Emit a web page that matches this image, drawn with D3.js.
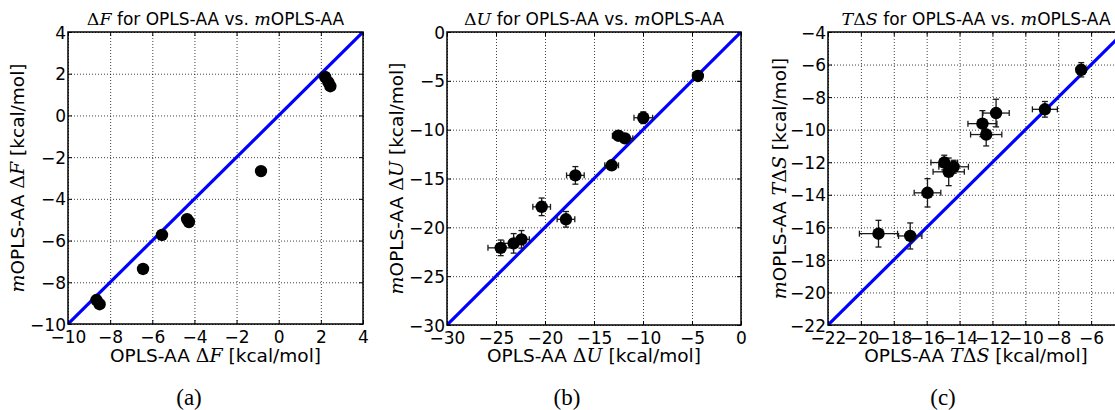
<!DOCTYPE html>
<html>
<head>
<meta charset="utf-8">
<script src="https://cdn.jsdelivr.net/npm/d3@7"></script>
<style>
  html, body { margin: 0; padding: 0; background: #fff; }
  svg { display: block; overflow: hidden; }
</style>
</head>
<body>
<svg id="fig" width="1115" height="410"></svg>
<script>
// ---- Data (kcal/mol) ----
// (a) free energy
const freeOpls  = [2.2, 2.35, 2.45, -0.84, -4.35, -4.26, -5.54, -6.44, -8.65, -8.5];
const freeMopls = [1.85, 1.6, 1.4, -2.67, -4.97, -5.11, -5.73, -7.36, -8.85, -9.05];

// (b) internal energy with uncertainties
const energyOpls     = [-4.4, -9.97, -12.52, -11.84, -13.2, -16.9, -20.34, -17.86, -24.52, -23.2, -22.4];
const energyMopls    = [-4.5, -8.78, -10.62, -10.89, -13.65, -14.68, -17.9, -19.18, -22.1, -21.64, -21.23];
const energyOplsErr  = [0.3, 0.95, 0.6, 0.8, 0.7, 0.9, 0.9, 0.9, 1.3, 1.0, 0.8];
const energyMoplsErr = [0.3, 0.6, 0.4, 0.4, 0.4, 0.9, 0.9, 0.8, 0.8, 1.0, 0.9];

// (c) entropic term with uncertainties
const entropyOpls     = [-18.93, -17.0, -15.95, -14.93, -14.36, -14.66, -12.61, -12.38, -11.78, -8.81, -6.6];
const entropyMopls    = [-16.39, -16.53, -13.88, -12.02, -12.28, -12.59, -9.63, -10.3, -8.98, -8.75, -6.32];
const entropyOplsErr  = [1.16, 0.71, 0.81, 0.81, 0.9, 0.95, 0.88, 0.95, 0.8, 0.76, 0.3];
const entropyMoplsErr = [0.82, 0.8, 0.87, 0.45, 0.4, 0.85, 0.8, 0.7, 0.85, 0.48, 0.44];

// ---- Tick values ----
const ticksA = [-10, -8, -6, -4, -2, 0, 2, 4];
const ticksB = [-30, -25, -20, -15, -10, -5, 0];
const ticksC = [-22, -20, -18, -16, -14, -12, -10, -8, -6, -4];

// ---- Text, split into plain and math runs ----
// kind: "t" plain sans, "i" math italic, "u" math upright
const titleA  = [["u","Δ"],["i","F"],["t"," for OPLS-AA vs. "],["i","m"],["t","OPLS-AA"]];
const titleB  = [["u","Δ"],["i","U"],["t"," for OPLS-AA vs. "],["i","m"],["t","OPLS-AA"]];
const titleC  = [["i","T"],["u","Δ"],["i","S"],["t"," for OPLS-AA vs. "],["i","m"],["t","OPLS-AA"]];
const xLabelA = [["t","OPLS-AA "],["u","Δ"],["i","F"],["t"," [kcal/mol]"]];
const xLabelB = [["t","OPLS-AA "],["u","Δ"],["i","U"],["t"," [kcal/mol]"]];
const xLabelC = [["t","OPLS-AA "],["i","T"],["u","Δ"],["i","S"],["t"," [kcal/mol]"]];
const yLabelA = [["i","m"],["t","OPLS-AA "],["u","Δ"],["i","F"],["t"," [kcal/mol]"]];
const yLabelB = [["i","m"],["t","OPLS-AA "],["u","Δ"],["i","U"],["t"," [kcal/mol]"]];
const yLabelC = [["i","m"],["t","OPLS-AA "],["i","T"],["u","Δ"],["i","S"],["t"," [kcal/mol]"]];
const captions = ["(a)", "(b)", "(c)"];

const SANS = "'DejaVu Sans', 'Bitstream Vera Sans', sans-serif";
const MATH = "'DejaVu Serif', 'Liberation Serif', serif";
const TICK_FS = 17;
const TITLE_FS = 17;
const LABEL_FS = 18.5;
const WIDTH = 1115;

const panels = [
  { x0: 68,  x1: 363,  y0: 32, y1: 324, dom: [-10, 4],  ticks: ticksA,
    xs: freeOpls, ys: freeMopls, xe: null, ye: null,
    title: titleA, xl: xLabelA, yl: yLabelA, ylx: 18,  cap: captions[0], capx: 189 },
  { x0: 447, x1: 741,  y0: 32, y1: 325, dom: [-30, 0],  ticks: ticksB,
    xs: energyOpls, ys: energyMopls, xe: energyOplsErr, ye: energyMoplsErr,
    title: titleB, xl: xLabelB, yl: yLabelB, ylx: 397, cap: captions[1], capx: 567 },
  { x0: 828, x1: 1124, y0: 32, y1: 325, dom: [-22, -4], ticks: ticksC,
    xs: entropyOpls, ys: entropyMopls, xe: entropyOplsErr, ye: entropyMoplsErr,
    title: titleC, xl: xLabelC, yl: yLabelC, ylx: 780, cap: captions[2], capx: 943 }
];

const svg = d3.select("#fig");

function richText(sel, runs, fs) {
  runs.forEach(([kind, str]) => {
    const ts = sel.append("tspan").text(str);
    if (kind === "t") {
      ts.attr("font-family", SANS);
    } else {
      ts.attr("font-family", MATH).attr("font-size", fs + 0.5);
      if (kind === "i") ts.attr("font-style", "italic");
    }
  });
  return sel;
}

const fmt = d3.format("d");

panels.forEach((p, idx) => {
  const x = d3.scaleLinear().domain(p.dom).range([p.x0, p.x1]);
  const y = d3.scaleLinear().domain(p.dom).range([p.y1, p.y0]);
  const w = p.x1 - p.x0, h = p.y1 - p.y0;
  const g = svg.append("g");

  const clipId = "clip" + idx;
  svg.append("clipPath").attr("id", clipId)
    .append("rect").attr("x", p.x0).attr("y", p.y0).attr("width", w).attr("height", h);

  // dotted grid
  const gx = g.append("g").attr("transform", `translate(0,${p.y1})`)
    .call(d3.axisBottom(x).tickValues(p.ticks).tickSize(-h).tickFormat(""));
  const gy = g.append("g").attr("transform", `translate(${p.x0},0)`)
    .call(d3.axisLeft(y).tickValues(p.ticks).tickSize(-w).tickFormat(""));
  [gx, gy].forEach(a => {
    a.select(".domain").remove();
    a.selectAll("line").attr("stroke", "#000").attr("stroke-width", 1)
      .attr("stroke-dasharray", "1,2").attr("stroke-opacity", 0.75);
  });

  // identity line
  g.append("line").attr("clip-path", `url(#${clipId})`)
    .attr("x1", x(p.dom[0])).attr("y1", y(p.dom[0]))
    .attr("x2", x(p.dom[1])).attr("y2", y(p.dom[1]))
    .attr("stroke", "#0000ff").attr("stroke-width", 3.2);

  // error bars
  const pts = p.xs.map((v, i) => ({ x: v, y: p.ys[i],
    xe: p.xe ? p.xe[i] : 0, ye: p.ye ? p.ye[i] : 0 }));
  if (p.xe) {
    const eb = g.append("g").attr("stroke", "#1a1a1a").attr("stroke-width", 1.3);
    const cap = 3;
    pts.forEach(d => {
      const cx = x(d.x), cy = y(d.y);
      const xa = x(d.x - d.xe), xb = x(d.x + d.xe);
      const ya = y(d.y - d.ye), yb = y(d.y + d.ye);
      eb.append("line").attr("x1", xa).attr("x2", xb).attr("y1", cy).attr("y2", cy);
      eb.append("line").attr("x1", xa).attr("x2", xa).attr("y1", cy - cap).attr("y2", cy + cap);
      eb.append("line").attr("x1", xb).attr("x2", xb).attr("y1", cy - cap).attr("y2", cy + cap);
      eb.append("line").attr("x1", cx).attr("x2", cx).attr("y1", ya).attr("y2", yb);
      eb.append("line").attr("x1", cx - cap).attr("x2", cx + cap).attr("y1", ya).attr("y2", ya);
      eb.append("line").attr("x1", cx - cap).attr("x2", cx + cap).attr("y1", yb).attr("y2", yb);
    });
  }

  // markers
  g.append("g").selectAll("circle").data(pts).join("circle")
    .attr("cx", d => x(d.x)).attr("cy", d => y(d.y)).attr("r", 6.2)
    .attr("fill", "#000");

  // axes with inward ticks; labels past the figure edge stay blank
  const xFmt = v => (x(v) + 12 > WIDTH ? "" : fmt(v));
  const ax = g.append("g").attr("transform", `translate(0,${p.y1})`)
    .call(d3.axisBottom(x).tickValues(p.ticks).tickSizeInner(-4).tickSizeOuter(0)
      .tickPadding(7).tickFormat(xFmt));
  const ay = g.append("g").attr("transform", `translate(${p.x0},0)`)
    .call(d3.axisLeft(y).tickValues(p.ticks).tickSizeInner(-4).tickSizeOuter(0)
      .tickPadding(2).tickFormat(fmt));
  const at = g.append("g").attr("transform", `translate(0,${p.y0})`)
    .call(d3.axisTop(x).tickValues(p.ticks).tickSizeInner(-4).tickSizeOuter(0).tickFormat(""));
  const ar = g.append("g").attr("transform", `translate(${p.x1},0)`)
    .call(d3.axisRight(y).tickValues(p.ticks).tickSizeInner(-4).tickSizeOuter(0).tickFormat(""));
  [ax, ay, at, ar].forEach(a => {
    a.select(".domain").remove();
    a.attr("font-family", SANS).attr("font-size", TICK_FS);
    a.selectAll("line").attr("stroke", "#000").attr("stroke-width", 1);
    a.selectAll("text").attr("fill", "#000");
  });
  ay.selectAll("text").attr("dy", "0.36em");

  // frame
  g.append("rect").attr("x", p.x0).attr("y", p.y0).attr("width", w).attr("height", h)
    .attr("fill", "none").attr("stroke", "#000").attr("stroke-width", 1.5);

  const cx = (p.x0 + p.x1) / 2, cy = (p.y0 + p.y1) / 2;

  // title
  richText(g.append("text").attr("x", cx).attr("y", 25).attr("text-anchor", "middle")
    .attr("font-size", TITLE_FS).attr("fill", "#000"), p.title, TITLE_FS);
  // x label
  richText(g.append("text").attr("x", cx).attr("y", 362).attr("text-anchor", "middle")
    .attr("font-size", LABEL_FS).attr("fill", "#000"), p.xl, LABEL_FS);
  // y label
  richText(g.append("text").attr("transform", `translate(${p.ylx + 6},${cy}) rotate(-90)`)
    .attr("text-anchor", "middle").attr("font-size", LABEL_FS).attr("fill", "#000"), p.yl, LABEL_FS);
  // caption
  g.append("text").attr("x", p.capx).attr("y", 405).attr("text-anchor", "middle")
    .attr("font-family", "'Liberation Serif', 'DejaVu Serif', serif").attr("font-size", 23)
    .attr("fill", "#000").text(p.cap);
});
</script>
</body>
</html>
